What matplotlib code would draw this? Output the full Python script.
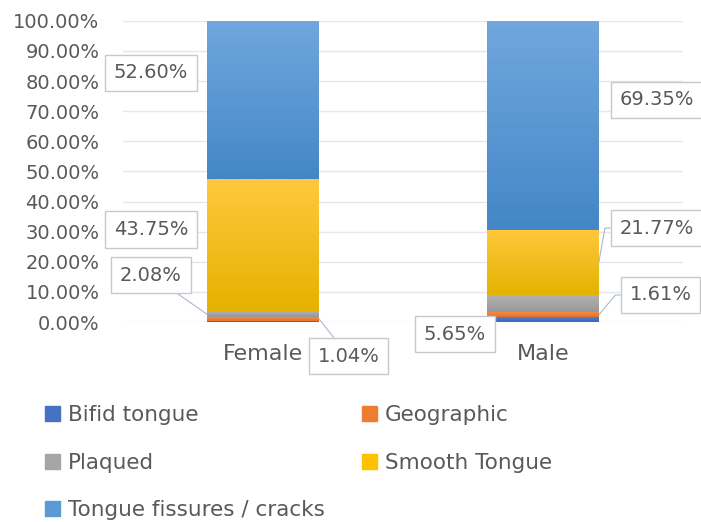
import numpy as np
import matplotlib.pyplot as plt
from matplotlib.colors import LinearSegmentedColormap
from matplotlib.ticker import FuncFormatter

plt.rcParams['font.family'] = ['DejaVu Sans']

groups = ["Female", "Male"]
series = ["Bifid tongue", "Geographic", "Plaqued", "Smooth Tongue", "Tongue fissures / cracks"]
bifid = [0.52, 1.61]
geographic = [1.04, 1.61]
plaqued = [2.08, 5.65]
smooth = [43.75, 21.77]
fissures = [52.60, 69.35]
values = [bifid, geographic, plaqued, smooth, fissures]

# (top colour, bottom colour) of each series gradient
grad = [("#4F7FD0", "#3A66B8"),
        ("#F48A44", "#E2702A"),
        ("#B4B4B4", "#989898"),
        ("#FFC83D", "#E5B200"),
        ("#70A7DD", "#4487C7")]
legend_colors = ["#4472C4", "#ED7D31", "#A5A5A5", "#FFC000", "#5B9BD5"]
txt = "#595959"
lab_fs = 14

fig = plt.figure(figsize=(7.01, 5.22), dpi=100)
ax = fig.add_axes([0.1755, 0.383, 0.7985, 0.577])

x = np.arange(len(groups))
width = 0.4
bottom = np.zeros(len(groups))
for vals, (c_top, c_bot) in zip(values, grad):
    b = ax.bar(x, vals, width, bottom=bottom, color=c_bot, linewidth=0, zorder=2)
    cmap = LinearSegmentedColormap.from_list("g", [c_bot, c_top])
    for p in b.patches:
        x0, y0 = p.get_x(), p.get_y()
        w, h = p.get_width(), p.get_height()
        im = ax.imshow(np.linspace(0, 1, 64).reshape(-1, 1), cmap=cmap, origin="lower",
                       extent=[x0, x0 + w, y0, y0 + h], aspect="auto", zorder=3)
        im.set_clip_path(p)
    bottom = bottom + np.array(vals)

ax.set_xlim(-0.5, 1.5)
ax.set_ylim(0, 100)
ax.set_yticks(np.arange(0, 101, 10))
ax.yaxis.set_major_formatter(FuncFormatter(lambda v, _: f"{v:.2f}%"))
ax.set_xticks(x)
ax.set_xticklabels(groups)
ax.tick_params(axis="y", length=0, pad=17, labelsize=14, labelcolor=txt)
ax.tick_params(axis="x", length=0, pad=16, labelsize=16, labelcolor=txt)
ax.grid(axis="y", color="#E4E7EC", linewidth=1, zorder=0)
ax.set_axisbelow(True)
for s in ax.spines.values():
    s.set_visible(False)

box = dict(boxstyle="square,pad=0.45", fc="white", ec="#C8C8C8", lw=1)
line = dict(arrowstyle="-", color="#A9B8CC", lw=0.8, shrinkA=0, shrinkB=0)

def mid(i, k):
    return sum(v[i] for v in values[:k]) + values[k][i] / 2

# Female labels
ax.text(-0.40, 82.7, f"{fissures[0]:.2f}%", ha="center", va="center", fontsize=lab_fs, color=txt, bbox=box, zorder=5)
ax.text(-0.40, 30.7, f"{smooth[0]:.2f}%", ha="center", va="center", fontsize=lab_fs, color=txt, bbox=box, zorder=5)
ax.annotate(f"{plaqued[0]:.2f}%", xy=(-width / 2, mid(0, 2)), xytext=(-0.40, 15.6),
            ha="center", va="center", fontsize=lab_fs, color=txt, bbox=box, arrowprops=line,
            annotation_clip=False, zorder=5)
ax.annotate(f"{geographic[0]:.2f}%", xy=(width / 2, mid(0, 1)), xytext=(0.306, -11.3),
            ha="center", va="center", fontsize=lab_fs, color=txt, bbox=box, arrowprops=line,
            annotation_clip=False, zorder=5)

# Male labels
ax.text(1.274, 73.8, f"{fissures[1]:.2f}%", ha="left", va="center", fontsize=lab_fs, color=txt, bbox=box, zorder=5, clip_on=False)
ax.annotate(f"{smooth[1]:.2f}%", xy=(1 + width / 2, mid(1, 3)), xytext=(1.274, 31.2),
            ha="left", va="center", fontsize=lab_fs, color=txt, bbox=box,
            arrowprops=dict(line, connectionstyle="angle,angleA=0,angleB=80,rad=0"),
            annotation_clip=False, zorder=5)
ax.annotate(f"{geographic[1]:.2f}%", xy=(1 + width / 2, mid(1, 1)), xytext=(1.31, 9.0),
            ha="left", va="center", fontsize=lab_fs, color=txt, bbox=box,
            arrowprops=dict(line, connectionstyle="angle,angleA=0,angleB=50,rad=0"),
            annotation_clip=False, zorder=5)
ax.text(0.686, -4.0, f"{plaqued[1]:.2f}%", ha="center", va="center", fontsize=lab_fs, color=txt, bbox=box, zorder=5, clip_on=False)

# legend, row-wise order as in the original
order = [0, 2, 4, 1, 3]
handles = [plt.Rectangle((0, 0), 1, 1, color=legend_colors[i]) for i in order]
labels = [series[i] for i in order]
fig.legend(handles, labels, loc="upper left", bbox_to_anchor=(0.052, 0.241), ncol=2,
           frameon=False, fontsize=15.5, labelcolor=txt, handlelength=0.7, handleheight=0.7,
           handletextpad=0.35, labelspacing=1.29, columnspacing=1.75, borderaxespad=0)

fig.savefig("out.png", dpi=100)
